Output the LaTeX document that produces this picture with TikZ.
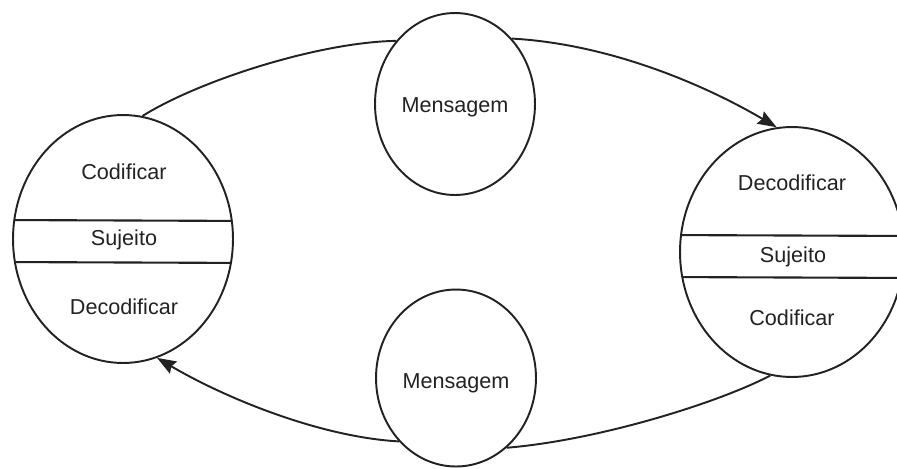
\documentclass[tikz,border=0pt]{standalone}
\usepackage{fontspec}
\setmainfont{Liberation Sans}
\usetikzlibrary{arrows.meta,shapes.geometric}
\definecolor{ink}{HTML}{222222}
\tikzset{
  ring/.style={ellipse, draw=ink, line width=1.1pt, inner sep=0pt},
  lbl/.style={font=\fontsize{12.3}{14}\selectfont, text=ink, inner sep=0pt},
  flow/.style={draw=ink, line width=1.1pt},
  tip/.style={-{Stealth[length=0.38cm,width=0.28cm,inset=0.05cm]}},
  chord/.style={draw=ink, line width=1.2pt}
}
\begin{document}
\begin{tikzpicture}[x=0.02cm, y=-0.02cm]
\useasboundingbox (0,0) rectangle (897,468);
\clip (0,0) rectangle (897,468);

% the two subjects
\node[ring, minimum width=4.4cm, minimum height=4.96cm] (L) at (123,239) {};
\node[ring, minimum width=4.48cm, minimum height=5cm] (R) at (792,252) {};

% the two messages
\node[ring, minimum width=3.2cm, minimum height=3.64cm] (M1) at (455,104) {};
\node[ring, minimum width=3.2cm, minimum height=3.54cm] (M2) at (456,378) {};

% bands across the subjects
\begin{scope}
  \clip (123,239) ellipse [x radius=110, y radius=124];
  \draw[chord] (0,220) -- (260,221);
  \draw[chord] (0,262) -- (260,263);
\end{scope}
\begin{scope}
  \clip (792,252) ellipse [x radius=112, y radius=125];
  \draw[chord] (660,235) -- (920,236);
  \draw[chord] (660,277) -- (920,278);
\end{scope}

% texts
\node[lbl] (l1) at (124,172) {Codificar};
\node[lbl] (l2) at (124,240) {Sujeito};
\node[lbl] (l3) at (124,307) {Decodificar};
\node[lbl] (r1) at (792,183) {Decodificar};
\node[lbl] (r2) at (793,257) {Sujeito};
\node[lbl] (r3) at (792,318) {Codificar};
\node[lbl] (m1) at (455,107) {Mensagem};
\node[lbl] (m2) at (456,383) {Mensagem};

% upper path: subject -> message -> subject
\draw[flow] (L.81) .. controls (200,80) and (320,42) .. (M1.133);
\draw[flow, tip] (M1.49) .. controls (610,44) and (705,85) .. (R.97);

% lower path: subject -> message -> subject
\draw[flow] (R.260) .. controls (720,402) and (600,440) .. (M2.306);
\draw[flow, tip] (M2.228) .. controls (320,437) and (225,398) .. (L.286);
\end{tikzpicture}
\end{document}
